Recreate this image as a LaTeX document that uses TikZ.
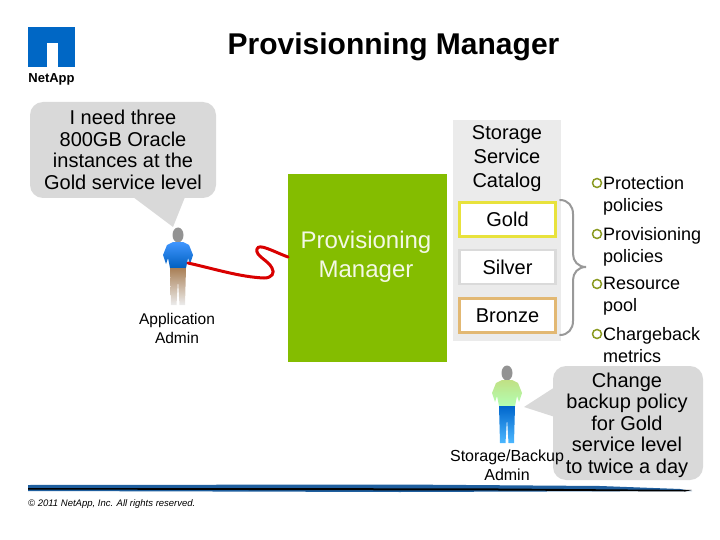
\documentclass[tikz,border=0pt]{standalone}
\usepackage{fontspec}
\setmainfont{Liberation Sans}
\usepackage{tikz}
\usetikzlibrary{positioning,calc}

\definecolor{napblue}{HTML}{0067C5}
\definecolor{mgrgreen}{HTML}{84BD00}
\definecolor{bubblegray}{HTML}{D9D9D9}
\definecolor{catgray}{HTML}{EBEBEB}
\definecolor{goldline}{HTML}{E8E23C}
\definecolor{silverline}{HTML}{DADADA}
\definecolor{bronzeline}{HTML}{E2B873}
\definecolor{dotgreen}{HTML}{8A9A20}
\definecolor{bandblue}{HTML}{1F5F9F}

% figure with its top centre at #1, shirt colours #2/#3, legs colours #4/#5
\newcommand{\adminfig}[5]{
  \begin{scope}[shift={#1}]
    \fill[gray!85] (0,7) ellipse (5.5 and 7.5);
    \shade[top color=#2, bottom color=#3] (-5,14) -- (5,14) -- (11,17) -- (15,27) -- (12,36) -- (10,30) -- (8,40)
      -- (-8,40) -- (-10,30) -- (-12,36) -- (-15,27) -- (-11,17) -- cycle;
    \shade[top color=#4, bottom color=#5] (-8,40) -- (8,40) -- (7,77) -- (1.5,77) -- (0,52) -- (-1.5,77) -- (-7,77) -- cycle;
  \end{scope}
}

\begin{document}
\begin{tikzpicture}[x=1pt, y=-1pt,
  title/.style={font=\fontsize{30}{32}\selectfont\bfseries},
  bubble/.style={fill=bubblegray, rounded corners=13pt, inner sep=0pt, align=center,
    font=\fontsize{20}{21.7}\selectfont},
  tier/.style={draw, line width=2.5pt, fill=white, minimum width=96pt, minimum height=34pt, inner sep=0pt,
    font=\fontsize{20}{24}\selectfont},
  who/.style={align=center, font=\fontsize{15.5}{19}\selectfont},
  item/.style={anchor=north west, inner sep=0pt, align=left, font=\fontsize{18}{22}\selectfont},
  dot/.style={circle, draw=dotgreen, line width=1.5pt, minimum size=9pt, inner sep=0pt}]
  \useasboundingbox (0,0) rectangle (720,540);

  % logo
  \fill[napblue] (28,27) rectangle (75,67);
  \fill[white] (47,43) rectangle (58,67);
  \node[inner sep=0pt, font=\fontsize{13}{14}\selectfont\bfseries] (logo) at (51.5,79) {NetApp};

  \node[title] (head) at (393.5,47) {Provisionning Manager};

  % left side
  \node[bubble, minimum width=186pt, minimum height=96pt] (askA) at (123,150)
    {I need three\\800GB Oracle\\instances at the\\Gold service level};
  \fill[bubblegray] (133,197) -- (173,227) -- (185,197) -- cycle;
  \adminfig{(178,228)}{cyan!45!blue!75!white}{cyan!50!blue!75!black}{brown!65!gray}{gray!15}
  \node[who] (appadmin) at (177,328.5) {Application\\Admin};

  \node[fill=mgrgreen, minimum width=159pt, minimum height=188pt, inner sep=0pt] (mgr) at (367.5,268) {};
  \node[align=center, text=white!90!mgrgreen, font=\fontsize{24}{29}\selectfont] (mgrtext) at (366,256.5) {Provisioning\\Manager};

  \coordinate (handA) at (188,263);
  \coordinate (mgrin) at (288,257);
  \draw[red!85!black, line width=3pt, line cap=round] (handA) .. controls (215,269) and (240,277) .. (264,278)
    .. controls (272,278) and (275,273) .. (272,268) .. controls (268,260) and (255,256) .. (257,249)
    .. controls (259,243) and (272,251) .. (mgrin);

  % catalog
  \node[fill=catgray, minimum width=108pt, minimum height=221pt, inner sep=0pt] (catbg) at (507,230.5) {};
  \node[align=center, font=\fontsize{20}{24}\selectfont] (cattext) at (507,159) {Storage\\Service\\Catalog};
  \node[tier, draw=goldline] (gold) at (507.5,219.5) {Gold};
  \node[tier, draw=silverline] (silver) at (507.5,267) {Silver};
  \node[tier, draw=bronzeline] (bronze) at (507.5,315.5) {Bronze};
  \draw[gray!80, line width=2pt, line cap=round] (560,200) .. controls (568,200) and (573,206) .. (573,214)
    -- (573,254) .. controls (573,261) and (578,267) .. (586,267) .. controls (578,267) and (573,273) .. (573,280)
    -- (573,321) .. controls (573,329) and (568,335) .. (560,335);

  % list
  \foreach \yy/\nm/\txt in {183/pro/Protection\\policies, 234/prv/Provisioning\\policies, 284/res/Resource\\pool, 334/chg/Chargeback\\metrics} {
    \node[dot] (dot\nm) at (597,\yy) {};
    \node[item] (txt\nm) at (603,\yy-7) {\txt};
  }

  % right side
  \node[bubble, minimum width=150pt, minimum height=114pt] (askB) at (628,423) {};
  \node[align=center, inner sep=0pt, font=\fontsize{20}{21.5}\selectfont] (askBtext) at (627,425)
    {Change\\backup policy\\for Gold\\service level\\to twice a day};
  \fill[bubblegray] (555,387) -- (524,407) -- (555,417) -- cycle;
  \adminfig{(507,366)}{green!35!yellow!60!gray!60}{green!30!white}{blue!50!cyan!80!black}{cyan!60!blue!70}
  \node[who, font=\fontsize{16}{19}\selectfont] (backupadmin) at (507,465.5) {Storage/Backup\\Admin};

  % footer
  \fill[bandblue] (28,485) -- (400,484.5) -- (600,486) -- (680,489) -- (692,491) -- (400,492) -- (28,491) -- cycle;
  \fill[black] (28,488) -- (250,488) -- (500,488.5) -- (692,490) -- (685,491.5) -- (500,490.5) -- (250,490) -- (28,489.5) -- cycle;
  \node[anchor=west, inner sep=0pt, font=\fontsize{9.5}{10}\selectfont\itshape] (copy) at (28,504) {© 2011 NetApp, Inc. All rights reserved.};
\end{tikzpicture}
\end{document}
